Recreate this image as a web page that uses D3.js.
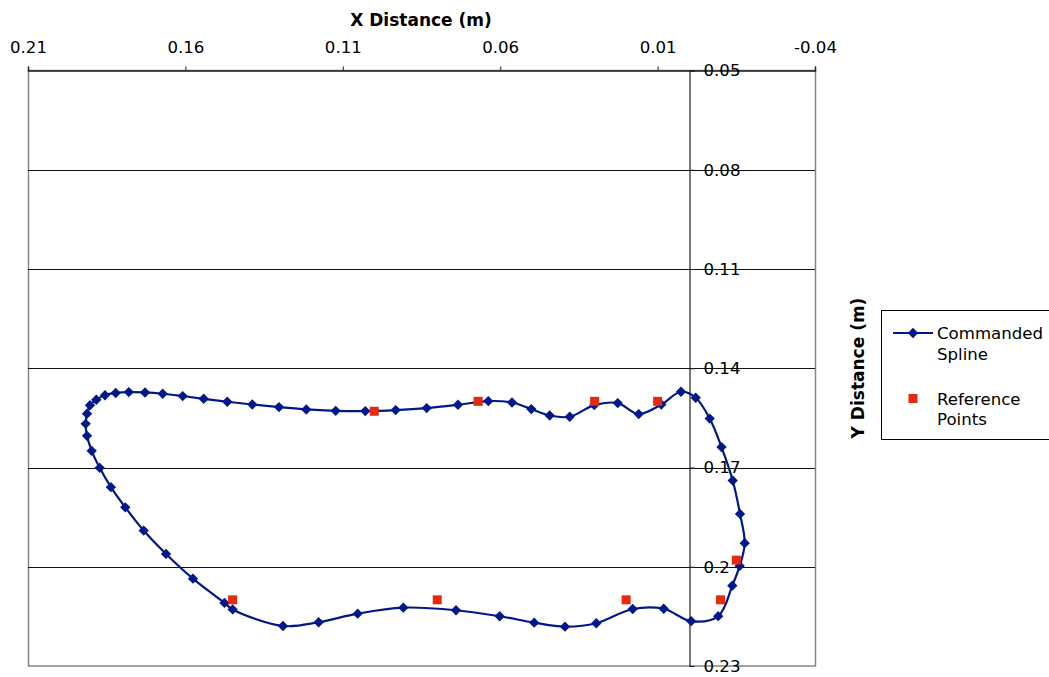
<!DOCTYPE html>
<html>
<head>
<meta charset="utf-8">
<script src="https://cdn.jsdelivr.net/npm/d3@7"></script>
<style>
  html, body { margin: 0; padding: 0; background: #fff; }
  text { font-family: "DejaVu Sans", Verdana, sans-serif; fill: #000; }
</style>
</head>
<body>
<div id="chart"></div>
<script>
// commanded spline knots, in drawing order (closed loop)
const splineX = [0.15759, 0.16616, 0.17325, 0.17909, 0.18367, 0.18722, 0.18977, 0.19126, 0.19167, 0.19126,
  0.19030, 0.18830, 0.18554, 0.18214, 0.17798, 0.17283, 0.16721, 0.16086, 0.15419, 0.14669,
  0.13875, 0.13027, 0.12160, 0.11226, 0.10285, 0.09320, 0.08335, 0.07341, 0.06378, 0.05625,
  0.05012, 0.04428, 0.03792, 0.03011, 0.02267, 0.01600, 0.00882, 0.00257, -0.00210, -0.00655,
  -0.01030, -0.01386, -0.01618, -0.01767, -0.01608, -0.01373, -0.00925, -0.00067, 0.00806, 0.01791,
  0.02947, 0.03942, 0.04920, 0.06016, 0.07404, 0.09078, 0.10527, 0.11766, 0.12900, 0.14498, 0.14758];
const splineY = [0.20359, 0.19612, 0.18907, 0.18205, 0.17594, 0.17010, 0.16496, 0.16042, 0.15679, 0.15376,
  0.15119, 0.14953, 0.14817, 0.14747, 0.14720, 0.14732, 0.14771, 0.14841, 0.14923, 0.15013,
  0.15095, 0.15174, 0.15246, 0.15286, 0.15295, 0.15265, 0.15204, 0.15104, 0.14992, 0.15035,
  0.15234, 0.15428, 0.15467, 0.15113, 0.15053, 0.15386, 0.15095, 0.14711, 0.14892, 0.15522,
  0.16384, 0.17394, 0.18402, 0.19288, 0.19975, 0.20571, 0.21493, 0.21645, 0.21270, 0.21276,
  0.21708, 0.21811, 0.21690, 0.21496, 0.21315, 0.21236, 0.21418, 0.21678, 0.21790, 0.21291, 0.21094];

// reference points
const refX = [0.100, 0.067, 0.030, 0.010, -0.015, -0.010, 0.020, 0.080, 0.145];
const refY = [0.153, 0.150, 0.150, 0.150, 0.198, 0.210, 0.210, 0.210, 0.210];

const xTicks = [0.21, 0.16, 0.11, 0.06, 0.01, -0.04];
const xTickLabels = ['0.21', '0.16', '0.11', '0.06', '0.01', '-0.04'];
const yTicks = [0.05, 0.08, 0.11, 0.14, 0.17, 0.2, 0.23];
const yTickLabels = ['0.05', '0.08', '0.11', '0.14', '0.17', '0.2', '0.23'];

const seriesNames = ['Commanded', 'Spline', 'Reference', 'Points'];

const width = 1049, height = 677;
const blue = '#00188c', red = '#e8290b';

const svg = d3.select('#chart').append('svg')
  .attr('width', width)
  .attr('height', height);

svg.append('rect').attr('width', width).attr('height', height).attr('fill', '#fff');

const xScale = d3.scaleLinear().domain([0.21, -0.04]).range([28, 815]);
const yScale = d3.scaleLinear().domain([0.05, 0.23]).range([70.5, 666]);

// plot frame (gray)
svg.append('rect')
  .attr('x', xScale(0.21) + 0.5).attr('y', yScale(0.05))
  .attr('width', xScale(-0.04) - xScale(0.21)).attr('height', yScale(0.23) - yScale(0.05))
  .attr('fill', 'none').attr('stroke', '#858585').attr('stroke-width', 1.5);

// horizontal gridlines
svg.append('g').selectAll('line')
  .data(yTicks.slice(1, -1))
  .enter().append('line')
  .attr('x1', xScale(0.21)).attr('x2', xScale(-0.04))
  .attr('y1', d => Math.round(yScale(d)) + 0.5).attr('y2', d => Math.round(yScale(d)) + 0.5)
  .attr('stroke', '#111').attr('stroke-width', 1);

// x axis along the top
const xAxis = d3.axisTop(xScale)
  .tickValues(xTicks)
  .tickSize(4)
  .tickPadding(14)
  .tickFormat((d, i) => xTickLabels[i]);

const gx = svg.append('g')
  .attr('transform', `translate(0,${yScale(0.05)})`)
  .call(xAxis);
gx.select('.domain').attr('stroke', '#222').attr('stroke-width', 1.5);
gx.selectAll('.tick line').attr('stroke', '#222');
gx.selectAll('.tick text').attr('font-size', 16.6).attr('fill', '#000');

// y axis crossing at x = 0
const yAxis = d3.axisRight(yScale)
  .tickValues(yTicks)
  .tickSize(5)
  .tickPadding(9)
  .tickFormat((d, i) => yTickLabels[i]);

const gy = svg.append('g')
  .attr('transform', `translate(${Math.round(xScale(0)) + 0.5},0)`)
  .call(yAxis);
gy.select('.domain').attr('stroke', '#222').attr('stroke-width', 1.2);
gy.selectAll('.tick line').attr('stroke', '#222');
gy.selectAll('.tick text').attr('font-size', 16.6).attr('fill', '#000');

// axis titles
svg.append('text')
  .attr('x', 421).attr('y', 26)
  .attr('text-anchor', 'middle')
  .attr('font-size', 17).attr('font-weight', 'bold')
  .text('X Distance (m)');

svg.append('text')
  .attr('transform', 'translate(864,368) rotate(-90)')
  .attr('text-anchor', 'middle')
  .attr('font-size', 17).attr('font-weight', 'bold')
  .text('Y Distance (m)');

// commanded spline
const spline = splineX.map((x, i) => ({x: x, y: splineY[i]}));
const line = d3.line()
  .x(d => xScale(d.x))
  .y(d => yScale(d.y))
  .curve(d3.curveCatmullRomClosed.alpha(0.5));

svg.append('path')
  .datum(spline)
  .attr('d', line)
  .attr('fill', 'none')
  .attr('stroke', blue)
  .attr('stroke-width', 2.2);

const diamond = d3.symbol().type(d3.symbolDiamond2).size(68);
svg.append('g').selectAll('path')
  .data(spline)
  .enter().append('path')
  .attr('transform', d => `translate(${xScale(d.x)},${yScale(d.y)})`)
  .attr('d', diamond)
  .attr('fill', blue);

// reference points
const refs = refX.map((x, i) => ({x: x, y: refY[i]}));
const square = d3.symbol().type(d3.symbolSquare).size(81);
svg.append('g').selectAll('path')
  .data(refs)
  .enter().append('path')
  .attr('transform', d => `translate(${xScale(d.x)},${yScale(d.y)})`)
  .attr('d', square)
  .attr('fill', red);

// legend
const legend = svg.append('g');
legend.append('rect')
  .attr('x', 881.5).attr('y', 310.5)
  .attr('width', 200).attr('height', 129)
  .attr('fill', '#fff').attr('stroke', '#000').attr('stroke-width', 1);
legend.append('line')
  .attr('x1', 893).attr('x2', 933).attr('y1', 333).attr('y2', 333)
  .attr('stroke', blue).attr('stroke-width', 2.2);
legend.append('path')
  .attr('transform', 'translate(913,333)')
  .attr('d', diamond).attr('fill', blue);
legend.append('path')
  .attr('transform', 'translate(913,398.5)')
  .attr('d', square).attr('fill', red);

const legendY = [339, 360, 405, 425];
legend.selectAll('text')
  .data(seriesNames)
  .enter().append('text')
  .attr('x', 937)
  .attr('y', (d, i) => legendY[i])
  .attr('font-size', 16.6)
  .text(d => d);
</script>
</body>
</html>
